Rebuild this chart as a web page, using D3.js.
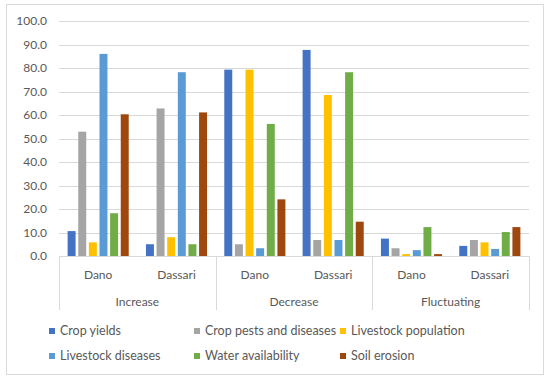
<!DOCTYPE html>
<html>
<head>
<meta charset="utf-8">
<script src="https://cdn.jsdelivr.net/npm/d3@7"></script>
<style>
  body { margin: 0; background: #fff; }
  text { font-family: Lato, "Open Sans", sans-serif; fill: #595959; }
</style>
</head>
<body>
<div id="chart"></div>
<script>
// categories and sites
var categories = ["Increase", "Decrease", "Fluctuating"];
var sites = ["Dano", "Dassari"];
var series = ["Crop yields", "Crop pests and diseases", "Livestock population",
              "Livestock diseases", "Water availability", "Soil erosion"];
var colors = ["#4472C4", "#A5A5A5", "#FFC000", "#5B9BD5", "#70AD47", "#9E480E"];
var yTicks = [0, 10, 20, 30, 40, 50, 60, 70, 80, 90, 100];

// values per series, in order: Increase Dano, Increase Dassari, Decrease Dano, Decrease Dassari, Fluct Dano, Fluct Dassari
var cropYields    = [10.6, 5.0, 79.3, 87.7, 7.4, 4.3];
var cropPests     = [52.9, 62.8, 5.0, 6.8, 3.3, 6.8];
var livestockPop  = [5.8, 8.0, 79.3, 68.5, 0.8, 5.8];
var livestockDis  = [86.0, 78.2, 3.3, 6.8, 2.5, 3.0];
var waterAvail    = [18.2, 5.0, 56.2, 78.2, 12.3, 10.2];
var soilErosion   = [60.3, 61.1, 24.1, 14.6, 0.8, 12.3];

var seriesValues = [cropYields, cropPests, livestockPop, livestockDis, waterAvail, soilErosion];

var width = 550, height = 381;
var margin = { left: 59, right: 21, top: 21, bottom: 125 };

var svg = d3.select("#chart")
    .append("svg")
    .attr("width", width)
    .attr("height", height);

// outer chart border
svg.append("rect")
    .attr("x", 6.5).attr("y", 4.5)
    .attr("width", 537).attr("height", 370)
    .attr("fill", "#fff")
    .attr("stroke", "#d9d9d9");

var plotBottom = height - margin.bottom;

var y = d3.scaleLinear()
    .domain([0, 100])
    .range([plotBottom, margin.top]);

// one band per category, then per site inside it
var xCat = d3.scaleBand()
    .domain(categories)
    .range([margin.left, width - margin.right]);

var xSite = d3.scaleBand()
    .domain(sites)
    .range([0, xCat.bandwidth()])
    .paddingInner(0.22)
    .paddingOuter(0.11);

var xBar = d3.scaleBand()
    .domain(series)
    .range([0, xSite.bandwidth()])
    .paddingInner(0.25);

// gridlines
svg.append("g")
    .selectAll("line")
    .data(yTicks.slice(1))
    .enter()
    .append("line")
    .attr("x1", margin.left)
    .attr("x2", width - margin.right)
    .attr("y1", function (d) { return Math.round(y(d)) + 0.5; })
    .attr("y2", function (d) { return Math.round(y(d)) + 0.5; })
    .attr("stroke", "#d9d9d9");

// y tick labels
svg.append("g")
    .selectAll("text")
    .data(yTicks)
    .enter()
    .append("text")
    .attr("x", 47)
    .attr("y", function (d) { return y(d); })
    .attr("dy", "0.35em")
    .attr("text-anchor", "end")
    .style("font-size", "12px")
    .text(function (d) { return d.toFixed(1); });

// bars
var rows = [];
categories.forEach(function (cat, ci) {
    sites.forEach(function (site, si) {
        series.forEach(function (s, k) {
            rows.push({ cat: cat, site: site, series: s, k: k, value: seriesValues[k][ci * 2 + si] });
        });
    });
});

svg.append("g")
    .selectAll("rect")
    .data(rows)
    .enter()
    .append("rect")
    .attr("x", function (d) { return xCat(d.cat) + xSite(d.site) + xBar(d.series); })
    .attr("y", function (d) { return y(d.value); })
    .attr("width", xBar.bandwidth())
    .attr("height", function (d) { return plotBottom - y(d.value); })
    .attr("fill", function (d) { return colors[d.k]; });

// x axis line and separators
var axisG = svg.append("g");
axisG.append("line")
    .attr("x1", margin.left).attr("x2", width - margin.right)
    .attr("y1", Math.round(plotBottom) + 0.5).attr("y2", Math.round(plotBottom) + 0.5)
    .attr("stroke", "#d9d9d9");

var sepX = categories.map(function (c) { return xCat(c); }).concat([width - margin.right]);
axisG.selectAll("line.sep")
    .data(sepX)
    .enter()
    .append("line")
    .attr("class", "sep")
    .attr("x1", function (d) { return Math.round(d) + 0.5; })
    .attr("x2", function (d) { return Math.round(d) + 0.5; })
    .attr("y1", plotBottom)
    .attr("y2", plotBottom + 54)
    .attr("stroke", "#d9d9d9");

// site labels
categories.forEach(function (cat) {
    sites.forEach(function (site) {
        axisG.append("text")
            .attr("x", xCat(cat) + xSite(site) + xSite.bandwidth() / 2)
            .attr("y", plotBottom + 19)
            .attr("dy", "0.35em")
            .attr("text-anchor", "middle")
            .style("font-size", "12px")
            .text(site);
    });
    axisG.append("text")
        .attr("x", xCat(cat) + xCat.bandwidth() / 2)
        .attr("y", plotBottom + 46)
        .attr("dy", "0.35em")
        .attr("text-anchor", "middle")
        .style("font-size", "12px")
        .text(cat);
});

// legend, two rows of three
var legendX = [49, 194, 340];
var legendY = [331, 356];
var legend = svg.append("g")
    .selectAll("g")
    .data(series)
    .enter()
    .append("g")
    .attr("transform", function (d, i) {
        return "translate(" + legendX[i % 3] + "," + legendY[Math.floor(i / 3)] + ")";
    });

legend.append("rect")
    .attr("x", 0).attr("y", -3)
    .attr("width", 6).attr("height", 6)
    .attr("fill", function (d, i) { return colors[i]; });

legend.append("text")
    .attr("x", 11)
    .attr("dy", "0.35em")
    .style("font-size", "12.5px")
    .text(function (d) { return d; });
</script>
</body>
</html>
